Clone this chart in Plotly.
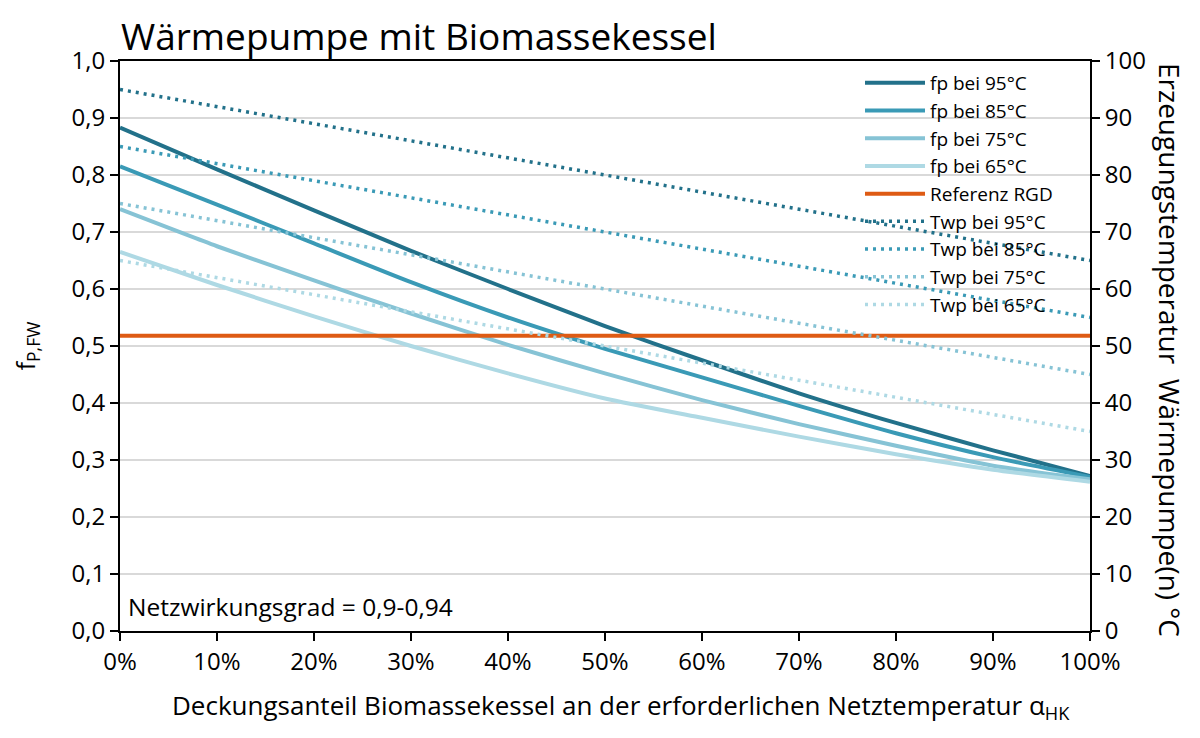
import plotly.graph_objects as go

# ---- data ----
x_share = [0.0, 0.1, 0.2, 0.3, 0.4, 0.5, 0.6, 0.7, 0.8, 0.9, 1.0]
fp_95 = [0.883, 0.810, 0.738, 0.667, 0.600, 0.535, 0.475, 0.417, 0.365, 0.317, 0.272]
fp_85 = [0.815, 0.748, 0.680, 0.612, 0.550, 0.495, 0.445, 0.395, 0.347, 0.305, 0.270]
fp_75 = [0.740, 0.675, 0.615, 0.557, 0.502, 0.452, 0.405, 0.363, 0.325, 0.290, 0.266]
fp_65 = [0.665, 0.607, 0.552, 0.500, 0.452, 0.408, 0.374, 0.341, 0.310, 0.283, 0.262]
ref_rgd = [0.518] * len(x_share)
twp_x = [0.0, 1.0]
twp_95 = [95, 65]
twp_85 = [85, 55]
twp_75 = [75, 45]
twp_65 = [65, 35]

fp_names = ["fp bei 95°C", "fp bei 85°C", "fp bei 75°C", "fp bei 65°C"]
twp_names = ["Twp bei 95°C", "Twp bei 85°C", "Twp bei 75°C", "Twp bei 65°C"]
colors = ["#22718a", "#3a9ab6", "#86c3d5", "#aed9e4"]
orange = "#de5b14"

FONT = "Open Sans"
# page offset (browser body margin) compensation
OX, OY = 8, 8
PL, PR, PT, PB = 120, 1090, 61, 631  # desired on-screen plot box
W, H = 1200, 738

fig = go.Figure()
for name, ys, c in zip(fp_names, [fp_95, fp_85, fp_75, fp_65], colors):
    fig.add_trace(go.Scatter(x=x_share, y=ys, name=name, mode="lines",
                             line=dict(color=c, width=4, shape="spline", smoothing=0.6)))
fig.add_trace(go.Scatter(x=x_share, y=ref_rgd, name="Referenz RGD", mode="lines",
                         line=dict(color=orange, width=4)))
for name, ys, c in zip(twp_names, [twp_95, twp_85, twp_75, twp_65], colors):
    fig.add_trace(go.Scatter(x=twp_x, y=ys, name=name, mode="lines", yaxis="y2",
                             line=dict(color=c, width=3.5, dash="3px,5px")))

pw = PR - PL
ph = PB - PT
def px_x(p):
    return (p - PL) / pw
def px_y(p):
    return (PB - p) / ph

fig.update_layout(
    width=W, height=H,
    paper_bgcolor="white", plot_bgcolor="white",
    separators=",.",
    font=dict(family=FONT, size=22, color="black"),
    margin=dict(l=PL - OX, r=W - (PR - OX), t=PT - OY, b=H - (PB - OY)),
    title=dict(text="Wärmepumpe mit Biomassekessel", x=(PL + 1 - OX) / W, xanchor="left",
               xref="container", y=1 - (37 - OY) / H, yanchor="middle", yref="container",
               font=dict(size=37, family=FONT, color="black")),
    xaxis=dict(range=[0, 1], tickvals=x_share, tickformat=".0%",
               showline=True, linecolor="black", linewidth=2, mirror=True,
               ticks="outside", ticklen=8, tickwidth=2, tickcolor="black",
               showgrid=False, zeroline=False,
               tickfont=dict(size=24)),
    yaxis=dict(range=[0, 1], dtick=0.1, tickformat=".1f",
               showline=True, linecolor="black", linewidth=2,
               ticks="outside", ticklen=8, tickwidth=2, tickcolor="black",
               showgrid=True, gridcolor="#d9d9d9", gridwidth=1.5, zeroline=False,
               tickfont=dict(size=24),
               title=dict(text="f<sub>P,FW</sub>", font=dict(size=25), standoff=30)),
    yaxis2=dict(range=[0, 100], dtick=10, overlaying="y", side="right",
                showline=True, linecolor="black", linewidth=2,
                ticks="outside", ticklen=8, tickwidth=2, tickcolor="black",
                showgrid=False, zeroline=False, tickfont=dict(size=24)),
    legend=dict(x=px_x(860), y=px_y(64), xanchor="left", yanchor="top",
                bgcolor="rgba(0,0,0,0)", font=dict(size=19), tracegroupgap=0,
                itemwidth=60),
    showlegend=True,
)

fig.add_annotation(text="Erzeugungstemperatur  Wärmepumpe(n) °C", textangle=90,
                   x=px_x(1170), y=px_y(350), xref="paper", yref="paper",
                   xanchor="center", yanchor="middle", showarrow=False,
                   font=dict(size=28))
fig.add_annotation(text="Deckungsanteil Biomassekessel an der erforderlichen Netztemperatur α<sub>HK</sub>",
                   x=px_x(621), y=px_y(706), xref="paper", yref="paper",
                   xanchor="center", yanchor="middle", showarrow=False,
                   font=dict(size=26))
fig.add_annotation(text="Netzwirkungsgrad = 0,9-0,94", x=px_x(126), y=px_y(606),
                   xref="paper", yref="paper", xanchor="left", yanchor="middle",
                   showarrow=False, font=dict(size=24.5))

fig.write_html("out.html")
